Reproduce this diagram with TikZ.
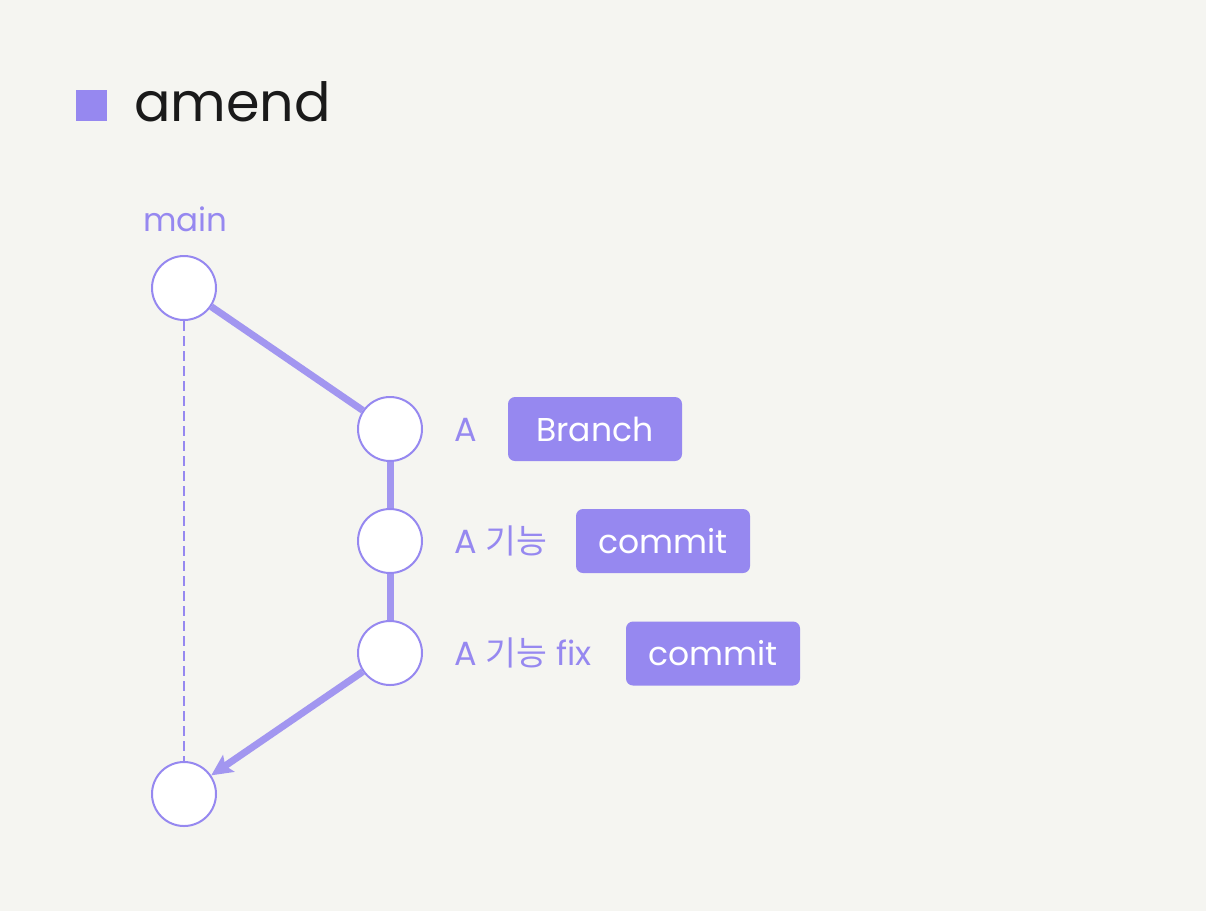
\documentclass[tikz,border=0pt]{standalone}
\usepackage{fontspec}
\setmainfont{Poppins}
\newfontfamily\kr{Noto Sans CJK KR}
\usetikzlibrary{arrows.meta}
\definecolor{bgc}{HTML}{F5F5F1}
\definecolor{pur}{HTML}{9688F0}
\definecolor{lpur}{HTML}{A296F0}
\definecolor{ink}{HTML}{1A1A1A}
\tikzset{
  commitnode/.style={circle, draw=pur, line width=2pt, fill=white, minimum size=64pt, inner sep=0pt},
  tagbox/.style={rounded corners=7pt, fill=pur, text=white, minimum width=174pt, minimum height=64pt, inner sep=0pt, font=\fontsize{33}{37}\selectfont},
  lbl/.style={anchor=base west, text=pur, inner sep=0pt, font=\fontsize{33.5}{37}\selectfont},
  link/.style={draw=lpur, line width=7pt},
}
\begin{document}
\begin{tikzpicture}[x=1pt,y=-1pt]
\fill[bgc] (0,0) rectangle (1206,911);
\useasboundingbox (0,0) rectangle (1206,911);
\fill[pur] (76,90) rectangle (107,121);
\node[anchor=base west, inner sep=0pt, text=ink, font=\fontsize{54}{60}\selectfont] (title) at (134,121) {amend};
\node[anchor=base west, text=pur, inner sep=0pt, font=\fontsize{32.5}{36}\selectfont] (mainlbl) at (143,231) {main};
\node[commitnode] (m) at (184,288) {};
\node[commitnode] (a) at (390,429) {};
\node[commitnode] (b) at (390,541) {};
\node[commitnode] (c) at (390,653) {};
\node[commitnode] (bot) at (184,794) {};
\draw[pur, line width=1.5pt, dash pattern=on 10pt off 5pt] (m.south) -- (bot.north);
\draw[link] (m) -- (a);
\draw[link] (a) -- (b);
\draw[link] (b) -- (c);
\draw[link, -{Stealth[length=21pt, width=20pt, inset=4pt]}] (c) -- (bot);
\node[lbl] (la) at (454,441) {A};
\node[lbl] (lb) at (454,553) {A {\kr 기능}};
\node[lbl] (lc) at (454,665) {A {\kr 기능} fix};
\node[tagbox] (ta) at (595,429) {Branch};
\node[tagbox] (tb) at (663,541) {commit};
\node[tagbox] (tc) at (713,653.5) {commit};
\end{tikzpicture}
\end{document}
